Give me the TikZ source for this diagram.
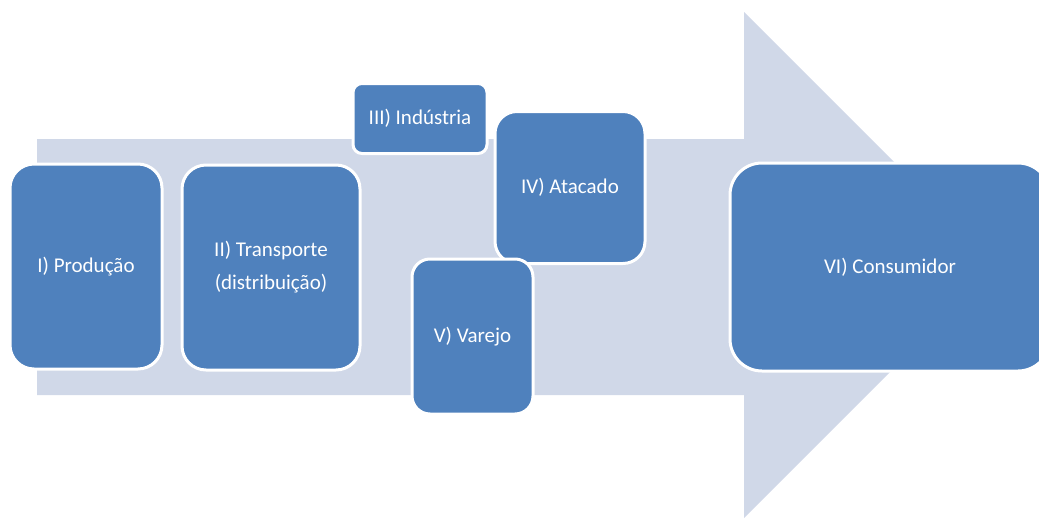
\documentclass[tikz,border=0pt]{standalone}
\usepackage{fontspec}
\setmainfont{Carlito}
\definecolor{arrowfill}{HTML}{D0D8E8}
\definecolor{boxfill}{HTML}{4F81BD}
\begin{document}
\begin{tikzpicture}[x=1pt,y=-1pt,
  stagebox/.style={draw=white, line width=3pt, fill=boxfill, text=white,
    font=\fontsize{21}{33}\selectfont, align=center, inner sep=0pt, rectangle},
]
\useasboundingbox (0,0) rectangle (1039,517);
\clip (0,0) rectangle (1039,517);
\fill[arrowfill] (37,139) -- (744,139) -- (744,12) -- (997,265) -- (744,518) -- (744,395) -- (37,395) -- cycle;
\node[stagebox, rounded corners=24pt, minimum width=152pt, minimum height=205pt] (p1) at (86,266.5) {I) Produção};
\node[stagebox, rounded corners=24pt, minimum width=178pt, minimum height=205pt] (p2) at (271,267.5) {II) Transporte\\(distribuição)};
\node[stagebox, rounded corners=9pt, minimum width=134pt, minimum height=70pt] (p3) at (420,118.5) {III) Indústria};
\node[stagebox, rounded corners=22pt, minimum width=150pt, minimum height=152pt] (p4) at (570,187.5) {IV) Atacado};
\node[stagebox, rounded corners=18pt, minimum width=121pt, minimum height=155pt] (p5) at (472.5,336.5) {V) Varejo};
\node[stagebox, rounded corners=32pt, minimum width=320pt, minimum height=208pt] (p6) at (890,267) {VI) Consumidor};
\end{tikzpicture}
\end{document}
